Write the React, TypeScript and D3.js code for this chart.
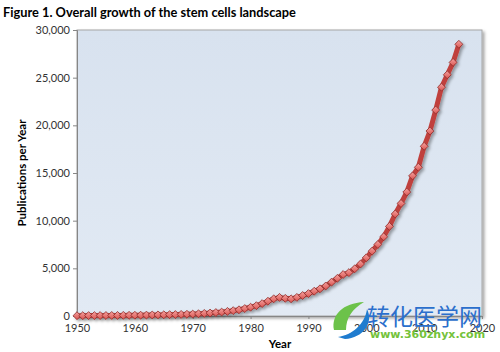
import React, { useEffect, useRef } from 'react';
import * as d3 from 'd3';

// yearly publication counts
const years = d3.range(1950, 2017);
const publications = [
  30, 35, 40, 40, 45, 50, 55, 60, 65, 70,
  75, 85, 95, 105, 115, 125, 140, 150, 165, 180,
  200, 230, 270, 310, 360, 410, 480, 560, 650, 780,
  920, 1080, 1300, 1550, 1800, 1950, 1850, 1800, 1950, 2150,
  2350, 2600, 2850, 3150, 3550, 3950, 4350, 4550, 4950, 5450,
  6100, 6800, 7500, 8300, 9400, 10700, 11800, 13000, 14700, 15600,
  17800, 19400, 21600, 24000, 25300, 26600, 28500,
];
const xTicks = [1950, 1960, 1970, 1980, 1990, 2000, 2010, 2020];
const yTicks = [0, 5000, 10000, 15000, 20000, 25000, 30000];

const App = () => {
  const svgRef = useRef<SVGSVGElement>(null);

  useEffect(() => {
    const svg = d3.select(svgRef.current);
    svg.selectAll('*').remove();

    const left = 77, right = 482, top = 30, bottom = 316;
    const font = 'Lato, "Open Sans", sans-serif';

    const x = d3.scaleLinear().domain([1950, 2020]).range([left, right]);
    const y = d3.scaleLinear().domain([0, 30000]).range([bottom, top]);

    const defs = svg.append('defs');
    const bg = defs.append('linearGradient').attr('id', 'bg').attr('x1', 0).attr('y1', 0).attr('x2', 0).attr('y2', 1);
    bg.append('stop').attr('offset', '0%').attr('stop-color', '#d8e2ef');
    bg.append('stop').attr('offset', '100%').attr('stop-color', '#e2eaf4');
    const sh = defs.append('filter').attr('id', 'shadow').attr('x', '-5%').attr('y', '-5%').attr('width', '120%').attr('height', '120%');
    sh.append('feDropShadow').attr('dx', 2).attr('dy', 2).attr('stdDeviation', 1.5).attr('flood-color', '#000').attr('flood-opacity', 0.35);
    const mk = defs.append('linearGradient').attr('id', 'mk').attr('x1', 0).attr('y1', 0).attr('x2', 0).attr('y2', 1);
    mk.append('stop').attr('offset', '0%').attr('stop-color', '#f6a3a1');
    mk.append('stop').attr('offset', '100%').attr('stop-color', '#d9534f');

    // title
    svg.append('text')
      .attr('x', 3).attr('y', 17)
      .attr('font-family', font).attr('font-weight', 'bold').attr('font-size', 12.8)
      .attr('fill', '#000')
      .text('Figure 1. Overall growth of the stem cells landscape');

    // plot area
    svg.append('rect')
      .attr('x', left).attr('y', top)
      .attr('width', right - left).attr('height', bottom - top)
      .attr('fill', 'url(#bg)')
      .attr('stroke', '#a6a6a6').attr('stroke-width', 1)
      .attr('filter', 'url(#shadow)');

    // y axis
    const yAxis = svg.append('g')
      .attr('transform', `translate(${left},0)`)
      .call(d3.axisLeft(y).tickValues(yTicks).tickSize(4).tickPadding(3).tickFormat(d3.format(',')));
    yAxis.select('.domain').attr('stroke', '#868686');
    yAxis.selectAll('line').attr('stroke', '#868686');
    yAxis.selectAll('text').attr('font-family', font).attr('font-size', 11).attr('fill', '#333');

    // x axis
    const xAxis = svg.append('g')
      .attr('transform', `translate(0,${bottom})`)
      .call(d3.axisBottom(x).tickValues(xTicks).tickSize(3).tickPadding(5).tickFormat(d3.format('d')));
    xAxis.select('.domain').attr('stroke', '#868686');
    xAxis.selectAll('line').attr('stroke', '#868686');
    xAxis.selectAll('text').attr('font-family', font).attr('font-size', 11).attr('fill', '#333');

    // axis titles
    svg.append('text')
      .attr('transform', `translate(26,${(top + bottom) / 2}) rotate(-90)`)
      .attr('text-anchor', 'middle')
      .attr('font-family', font).attr('font-weight', 'bold').attr('font-size', 11.5)
      .text('Publications per Year');
    svg.append('text')
      .attr('x', 280).attr('y', 348)
      .attr('text-anchor', 'middle')
      .attr('font-family', font).attr('font-weight', 'bold').attr('font-size', 11.5)
      .text('Year');

    // series
    const line = d3.line<number>()
      .x((d, i) => x(years[i]))
      .y(d => y(d));

    const series = svg.append('g').attr('filter', 'url(#shadow)');
    series.append('path')
      .datum(publications)
      .attr('fill', 'none')
      .attr('stroke', '#c0413d')
      .attr('stroke-width', 5)
      .attr('stroke-linejoin', 'round')
      .attr('d', line);

    series.selectAll('path.mark')
      .data(publications)
      .enter().append('path')
      .attr('class', 'mark')
      .attr('transform', (d, i) => `translate(${x(years[i])},${y(d)})`)
      .attr('d', d3.symbol(d3.symbolDiamond2, 40)())
      .attr('fill', 'url(#mk)')
      .attr('stroke', '#8c2c29')
      .attr('stroke-width', 0.8);

    // watermark
    const wm = svg.append('g');
    wm.append('path')
      .attr('d', 'M334,330 C331,315 343,303 364,302 C352,309 346,318 346,330 Z')
      .attr('fill', '#6cc24a');
    wm.append('path')
      .attr('d', 'M338,337 C352,335 365,324 367,309 C374,323 363,338 345,339 Z')
      .attr('fill', '#1f7ccf');
    wm.append('text')
      .attr('x', 367).attr('y', 325)
      .attr('font-family', '"Noto Sans CJK SC", sans-serif').attr('font-size', 23)
      .attr('fill', '#2b6fcc')
      .text('转化医学网');
    wm.append('text')
      .attr('x', 370).attr('y', 338)
      .attr('font-family', '"DejaVu Sans", sans-serif').attr('font-weight', 'bold').attr('font-size', 11)
      .attr('fill', '#74c23a')
      .text('www.360zhyx.com');
  }, []);

  return (
    <svg
      ref={svgRef}
      width={500}
      height={352}
      style={{ position: 'absolute', left: 0, top: 0, background: '#fff' }}
    />
  );
};

export default App;
